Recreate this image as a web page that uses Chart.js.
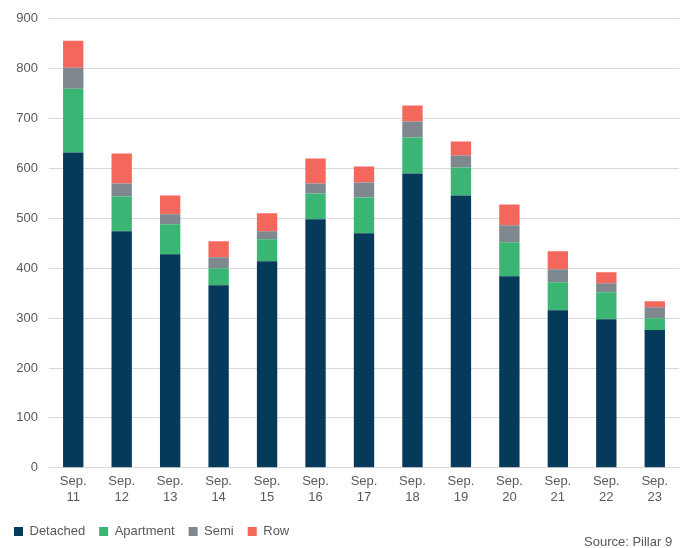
<!DOCTYPE html>
<html>
<head>
<meta charset="utf-8">
<script src="https://cdn.jsdelivr.net/npm/chart.js@4"></script>
<style>
  html, body { margin: 0; padding: 0; background: #fff; }
  #wrap { width: 685px; height: 548px; position: relative; }
</style>
</head>
<body>
<div id="wrap"><canvas id="chart"></canvas></div>
<script>
// Monate (Sep. 2011 - Sep. 2023)
const labels = [['Sep.', '11'], ['Sep.', '12'], ['Sep.', '13'], ['Sep.', '14'], ['Sep.', '15'], ['Sep.', '16'], ['Sep.', '17'], ['Sep.', '18'], ['Sep.', '19'], ['Sep.', '20'], ['Sep.', '21'], ['Sep.', '22'], ['Sep.', '23']];

// Werte je Segment
const detached = [632, 474, 428, 366, 414, 498, 470, 590, 546, 384, 316, 298, 276];
const apartment = [128, 70, 60, 34, 44, 52, 72, 72, 56, 68, 56, 54, 24];
const semi = [42, 26, 20, 22, 16, 20, 30, 32, 24, 34, 26, 18, 22];
const row = [54, 60, 38, 32, 36, 50, 32, 32, 28, 42, 36, 22, 12];

const sourceText = {
    id: 'sourceText',
    afterDraw(chart) {
        const ctx = chart.ctx;
        ctx.save();
        ctx.font = '13px "Liberation Sans", Arial';
        ctx.fillStyle = '#595959';
        ctx.textAlign = 'left';
        ctx.fillText('Source: Pillar 9', 584, 542);
        ctx.restore();
    }
};

const ctx = document.getElementById('chart').getContext('2d');
new Chart(ctx, {
    type: 'bar',
    data: {
        labels: labels,
        datasets: [
            { label: 'Detached', data: detached, backgroundColor: '#063a5b' },
            { label: 'Apartment', data: apartment, backgroundColor: '#3bb574' },
            { label: 'Semi', data: semi, backgroundColor: '#7f878f' },
            { label: 'Row', data: row, backgroundColor: '#f4675d' }
        ]
    },
    options: {
        responsive: true,
        maintainAspectRatio: false,
        animation: false,
        layout: { padding: { top: 3, right: 6, left: 0, bottom: 0 } },
        datasets: { bar: { categoryPercentage: 1, barPercentage: 0.42 } },
        scales: {
            x: {
                stacked: true,
                grid: { display: false, drawTicks: false },
                border: { color: '#d9d9d9' },
                ticks: { color: '#595959', font: { size: 13, family: '"Liberation Sans", Arial' }, maxRotation: 0, padding: 6 }
            },
            y: {
                stacked: true,
                min: 0, max: 900,
                afterFit(scale) { scale.width = 49; },
                ticks: { stepSize: 100, color: '#595959', font: { size: 13, family: '"Liberation Sans", Arial' }, padding: 11 },
                grid: { color: '#d9d9d9', drawTicks: false },
                border: { display: false }
            }
        },
        plugins: {
            legend: {
                position: 'bottom',
                align: 'start',
                labels: {
                    boxWidth: 9, boxHeight: 9,
                    color: '#595959',
                    font: { size: 13, family: '"Liberation Sans", Arial' },
                    padding: 14
                }
            },
            tooltip: { enabled: false }
        }
    },
    plugins: [sourceText]
});
</script>
</body>
</html>
